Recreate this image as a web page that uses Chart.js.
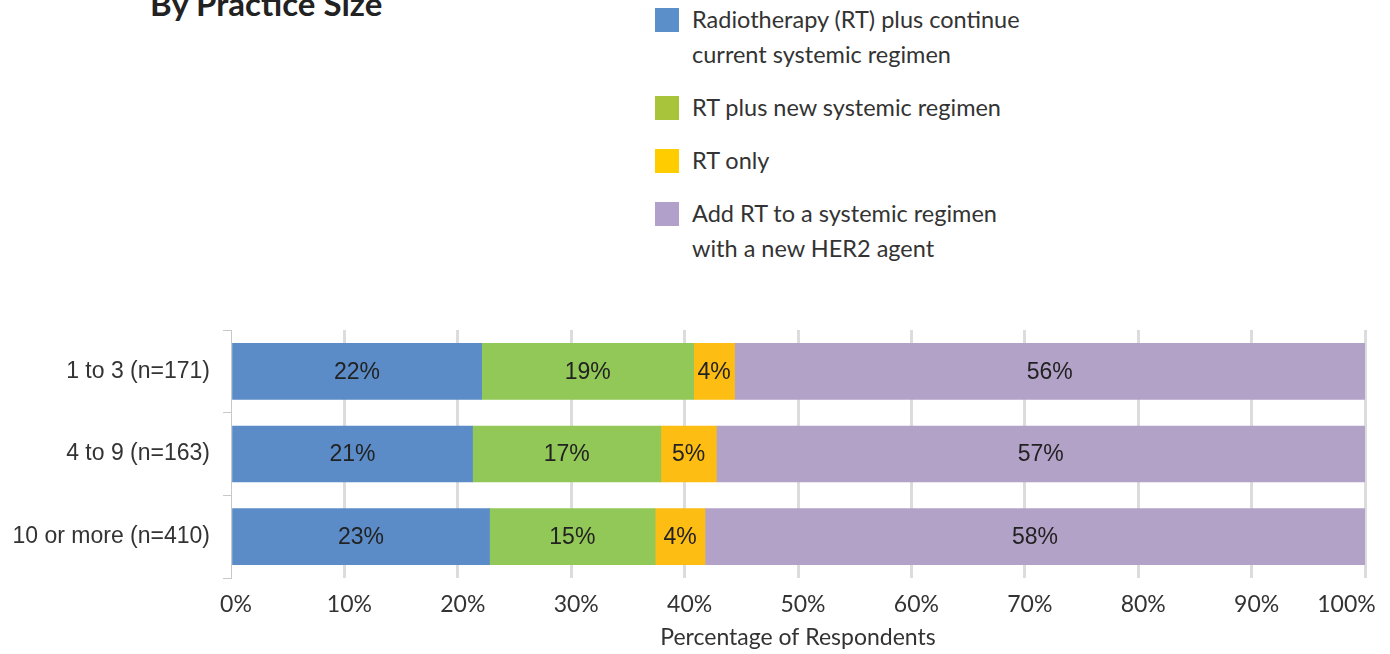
<!DOCTYPE html>
<html>
<head>
<meta charset="utf-8">
<script src="https://cdn.jsdelivr.net/npm/chart.js@4"></script>
<style>
  body { margin: 0; background: #fff; width: 1390px; height: 654px; overflow: hidden; position: relative; }
  #titulo { position: absolute; left: 150px; top: -17px; font: bold 33px "Lato", sans-serif; color: #222; }
  #leyenda { position: absolute; left: 655px; top: 2px; font: 23.5px "Lato", sans-serif; color: #333; }
  .item { position: relative; padding-left: 37px; line-height: 35px; margin-bottom: 18px; }
  .cuadro { position: absolute; left: 0; top: 6px; width: 24px; height: 24px; }
  #grafico { position: absolute; left: 0; top: 0; }
</style>
</head>
<body>
<div id="titulo">By Practice Size</div>
<div id="leyenda"></div>
<canvas id="grafico" width="1390" height="654"></canvas>
<script>
const categorias = ["1 to 3 (n=171)", "4 to 9 (n=163)", "10 or more (n=410)"];
const rtContinua = [22.1, 21.3, 22.8];
const rtNuevo = [18.7, 16.6, 14.6];
const soloRt = [3.6, 4.9, 4.4];
const rtHer2 = [55.6, 57.2, 58.2];
const ticksX = [0, 10, 20, 30, 40, 50, 60, 70, 80, 90, 100];

const nombres = [
    "Radiotherapy (RT) plus continue<br>current systemic regimen",
    "RT plus new systemic regimen",
    "RT only",
    "Add RT to a systemic regimen<br>with a new HER2 agent"
];
const coloresBarra = ["#5b8cc8", "#92c857", "#fdbd13", "#b3a2c8"];
const coloresLeyenda = ["#5b8fc9", "#a8c43a", "#ffcc00", "#b1a0c9"];

// leyenda en html
const leyenda = document.getElementById("leyenda");
nombres.forEach((n, i) => {
    leyenda.innerHTML += '<div class="item"><span class="cuadro" style="background:' + coloresLeyenda[i] + '"></span>' + n + '</div>';
});

// etiquetas dentro de las barras
const etiquetas = {
    id: "etiquetas",
    afterDatasetsDraw(chart) {
        const ctx = chart.ctx;
        ctx.save();
        ctx.font = '23px "Liberation Sans", Arial, sans-serif';
        ctx.fillStyle = "#222";
        ctx.textAlign = "center";
        ctx.textBaseline = "middle";
        chart.data.datasets.forEach((ds, i) => {
            chart.getDatasetMeta(i).data.forEach((barra, j) => {
                const p = barra.getCenterPoint();
                ctx.fillText(Math.round(ds.data[j]) + "%", p.x, p.y + 1);
            });
        });
        ctx.restore();
    }
};

const series = [rtContinua, rtNuevo, soloRt, rtHer2];

new Chart(document.getElementById("grafico"), {
    type: "bar",
    data: {
        labels: categorias,
        datasets: series.map((d, i) => ({
            label: nombres[i].replace("<br>", " "),
            data: d,
            backgroundColor: coloresBarra[i],
            barThickness: 56
        }))
    },
    options: {
        indexAxis: "y",
        responsive: false,
        animation: false,
        layout: { padding: { top: 330, right: 25, left: 0, bottom: 0 } },
        plugins: { legend: { display: false }, tooltip: { enabled: false } },
        scales: {
            x: {
                stacked: true,
                min: 0,
                max: 100,
                afterBuildTicks: s => { s.ticks = ticksX.map(v => ({ value: v })); },
                afterFit: s => { s.height = 76; s.paddingLeft = 0; s.paddingRight = 0; },
                border: { display: false },
                grid: {
                    drawTicks: false,
                    lineWidth: 3,
                    color: c => c.tick && c.tick.value === 0 ? "rgba(0,0,0,0)" : "#dcdcdc"
                },
                ticks: {
                    padding: 13,
                    labelOffset: 5,
                    color: "#333",
                    font: { family: "Lato", size: 23 },
                    // el 100% va corrido a la izquierda como en el original
                    callback: v => v === 100 ? v + "%        " : v + "%"
                },
                title: {
                    display: true,
                    text: "Percentage of Respondents",
                    color: "#333",
                    font: { family: "Lato", size: 23 },
                    padding: { top: 0, bottom: 3 }
                }
            },
            y: {
                stacked: true,
                afterFit: s => { s.width = 231; },
                border: { display: true, color: "#c8c8c8", width: 1 },
                grid: { offset: true, drawOnChartArea: false, tickLength: 8, color: "#c8c8c8" },
                ticks: {
                    padding: 13,
                    color: "#333",
                    font: { family: "Liberation Sans", size: 23 }
                }
            }
        }
    },
    plugins: [etiquetas]
});
</script>
</body>
</html>
